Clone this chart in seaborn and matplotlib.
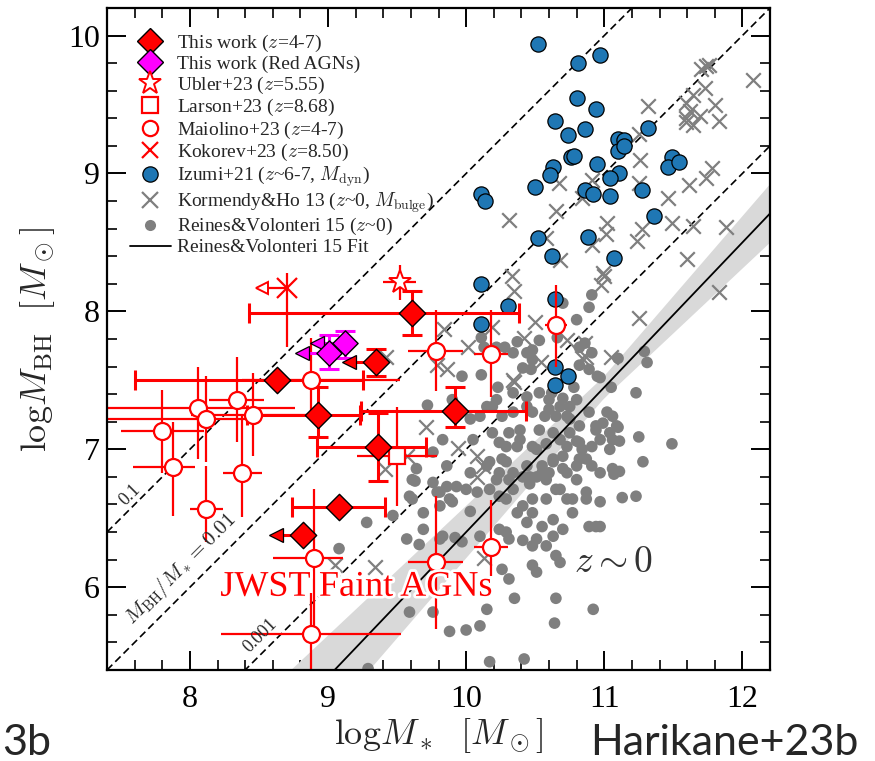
import numpy as np
import pandas as pd
import matplotlib
matplotlib.use("Agg")
import matplotlib.pyplot as plt
import matplotlib.patheffects as pe
from matplotlib.lines import Line2D
from matplotlib.ticker import MultipleLocator
import seaborn as sns

# ---------------- data ----------------
# This work (z=4-7): log M*, log MBH and asymmetric errors
tw_x = [9.61, 9.35, 8.63, 8.93, 9.92, 9.36, 9.08, 8.82]
tw_y = [7.99, 7.63, 7.50, 7.25, 7.28, 7.02, 6.58, 6.38]
tw_xlo = [1.18, 0.00, 1.03, 0.52, 0.68, 0.44, 0.34, 0.00]
tw_xhi = [0.77, 0.00, 0.62, 0.30, 0.51, 0.35, 0.33, 0.00]
tw_ylo = [0.16, 0.10, 0.00, 0.16, 0.12, 0.25, 0.00, 0.00]
tw_yhi = [0.16, 0.10, 0.00, 0.20, 0.17, 0.24, 0.00, 0.00]
tw_xlim = [False, True, False, False, False, False, False, True]

# This work (Red AGNs): stellar masses are upper limits
red_x = [9.01, 9.12]
red_y = [7.70, 7.77]
red_ylo = [0.12, 0.11]
red_yhi = [0.13, 0.09]

# Ubler+23, Larson+23, Kokorev+23
ub_x, ub_y, ub_xerr, ub_yerr = [9.52], [8.21], [0.12], [0.13]
la_x, la_y, la_xerr, la_yerr = [9.50], [6.95], [0.29], [0.36]
ko_x, ko_y, ko_ylo, ko_yhi = [8.70], [8.17], [0.43], [0.11]

# Maiolino+23 (z=4-7)
ma_x = [8.88, 8.06, 8.12, 8.34, 8.46, 7.80, 7.88, 8.38, 8.12, 8.90, 8.875, 9.78, 10.18, 9.78, 10.18, 10.65]
ma_y = [7.50, 7.30, 7.22, 7.36, 7.25, 7.13, 6.87, 6.83, 6.57, 6.21, 5.66, 6.18, 6.29, 7.71, 7.69, 7.90]
ma_xlo = [0.50, 0.80, 0.75, 0.20, 0.45, 0.30, 0.29, 0.14, 0.12, 0.30, 0.65, 0.20, 0.12, 0.20, 0.12, 0.08]
ma_xhi = [0.64, 0.70, 0.29, 0.20, 0.45, 0.30, 0.16, 0.14, 0.12, 0.21, 0.65, 0.20, 0.12, 0.20, 0.12, 0.08]
ma_ylo = [0.26, 0.37, 0.31, 0.31, 0.30, 0.30, 0.35, 0.32, 0.24, 0.50, 0.50, 0.48, 0.21, 0.29, 0.31, 0.30]
ma_yhi = [0.31, 0.30, 0.31, 0.31, 0.30, 0.30, 0.33, 0.41, 0.31, 0.50, 0.30, 0.48, 0.34, 0.30, 0.32, 0.29]

# Izumi+21 (z~6-7, dynamical masses)
iz_x = [10.52, 10.81, 10.97, 10.80, 10.94, 10.64, 10.86, 10.74, 11.32, 11.10,
        11.14, 11.10, 11.14, 10.76, 10.78, 10.95, 10.63, 10.61, 11.49, 11.46,
        11.54, 11.11, 11.04, 10.50, 10.86, 10.92, 11.04, 11.27, 11.36, 10.52,
        10.88, 10.62, 11.07, 10.11, 10.14, 10.11, 10.30, 10.11, 10.64, 10.64,
        10.74, 10.64]
iz_y = [9.94, 9.80, 9.86, 9.55, 9.47, 9.38, 9.32, 9.28, 9.33, 9.25,
        9.24, 9.16, 9.20, 9.12, 9.13, 9.07, 9.05, 8.99, 9.12, 9.05,
        9.08, 9.00, 8.97, 8.90, 8.88, 8.85, 8.84, 8.88, 8.69, 8.53,
        8.54, 8.40, 8.39, 8.85, 8.80, 8.20, 8.04, 7.91, 8.09, 7.60,
        7.53, 7.47]

# Kormendy & Ho 13 (z~0, bulge masses)
kh_x = [11.74, 11.70, 11.76, 12.08, 11.73, 11.64, 11.32, 11.80, 11.59, 11.62,
        11.69, 11.59, 11.64, 11.59, 11.83, 11.25, 11.26, 11.78, 11.74, 11.61,
        11.25, 11.46, 10.67, 10.91, 10.65, 10.31, 11.27, 11.02, 11.01, 11.49,
        11.64, 11.88, 11.24, 10.58, 10.91, 10.68, 11.60, 10.99, 10.33, 10.84,
        10.35, 10.19, 10.50, 10.42, 9.84, 10.01, 9.79, 9.86, 10.34, 9.71,
        9.94, 10.08, 10.12, 9.41, 9.57, 10.08, 10.73, 10.87, 11.00, 10.98,
        11.25, 11.83, 11.05, 10.86, 10.84, 10.54, 10.35, 10.13, 9.05, 9.34,
        9.42]
kh_y = [9.78, 9.76, 9.79, 9.68, 9.62, 9.57, 9.49, 9.50, 9.51, 9.45,
        9.42, 9.40, 9.35, 9.37, 9.38, 9.29, 9.10, 9.04, 8.97, 8.92,
        8.93, 8.82, 8.93, 8.95, 8.73, 8.66, 8.60, 8.64, 8.56, 8.64,
        8.62, 8.61, 8.51, 8.53, 8.48, 8.37, 8.38, 8.28, 8.26, 8.82,
        8.15, 7.89, 7.92, 7.81, 7.87, 7.74, 7.61, 7.58, 7.50, 7.16,
        7.01, 6.95, 6.88, 6.86, 6.95, 6.80, 7.79, 7.67, 8.26, 8.19,
        7.95, 8.14, 7.67, 7.77, 7.66, 7.63, 7.49, 6.21, 6.16, 6.15,
        7.67]

# Reines & Volonteri 15 (z~0)
rv_x = [10.91, 10.89, 10.80, 10.70, 10.11, 10.13, 10.22, 10.28, 10.37, 10.48,
        10.53, 10.66, 10.86, 10.91, 9.97, 10.11, 10.23, 9.72, 9.90, 10.03,
        10.10, 10.15, 10.22, 10.34, 10.44, 10.53, 10.60, 10.68, 10.73, 10.80,
        10.89, 10.94, 9.76, 9.83, 10.05, 10.19, 10.29, 10.39, 10.48, 10.53,
        10.63, 10.73, 10.82, 10.91, 9.64, 9.63, 9.86, 9.93, 10.03, 10.15,
        10.22, 10.29, 10.34, 10.46, 10.55, 10.63, 10.73, 10.82, 10.91, 9.59,
        9.81, 9.88, 10.08, 10.24, 10.34, 10.48, 10.68, 10.77, 10.87, 10.34,
        10.44, 10.48, 10.41, 10.47, 10.82, 10.82, 10.89, 10.95, 11.05, 10.78,
        10.62, 10.70, 10.75, 10.60, 10.57, 10.65, 10.75, 10.82, 10.48, 10.44,
        10.19, 10.26, 10.34, 10.39, 10.31, 10.24, 10.37, 10.51, 10.58, 10.68,
        10.75, 10.80, 10.84, 10.70, 10.63, 10.55, 10.44, 10.26, 10.17, 10.24,
        10.31, 10.41, 10.51, 10.60, 10.70, 10.80, 10.87, 10.94, 11.02, 11.06,
        10.99, 11.09, 11.04, 10.97, 11.06, 11.11, 11.23, 11.29, 11.31, 11.25,
        11.49, 11.28, 11.06, 10.97, 11.11, 10.80, 10.58, 10.46, 11.10, 10.97,
        11.10, 11.04, 11.07, 10.97, 11.13, 11.23, 10.97, 9.69, 9.81, 9.90,
        10.00, 10.03, 10.17, 10.29, 10.37, 10.41, 10.44, 10.48, 10.55, 10.63,
        10.58, 10.65, 10.73, 10.77, 10.87, 10.94, 10.89, 10.70, 10.63, 10.58,
        10.51, 10.48, 10.41, 10.31, 10.29, 10.24, 10.10, 9.97, 9.92, 9.83,
        9.69, 9.57, 10.65, 10.68, 10.48, 10.51, 10.26, 10.31, 10.35, 10.65,
        10.92, 10.64, 10.10, 10.00, 9.88, 9.76, 9.59, 10.15, 10.17, 10.42,
        9.61, 9.79, 9.86, 9.08, 9.28, 9.47, 9.66, 9.81, 9.61, 9.76,
        9.29]
rv_y = [8.12, 8.03, 7.94, 8.06, 7.81, 7.74, 7.74, 7.74, 7.78, 7.72,
        7.79, 7.81, 7.77, 7.70, 7.53, 7.54, 7.45, 7.32, 7.36, 7.22,
        7.24, 7.31, 7.36, 7.41, 7.38, 7.41, 7.36, 7.31, 7.24, 7.36,
        7.27, 7.14, 6.98, 7.07, 7.07, 7.12, 7.02, 7.07, 7.02, 7.14,
        7.12, 7.02, 7.05, 7.02, 6.86, 6.77, 6.88, 6.73, 6.83, 6.88,
        6.78, 6.91, 6.83, 6.80, 6.83, 6.91, 6.83, 6.93, 6.88, 6.66,
        6.69, 6.64, 6.69, 6.66, 6.71, 6.64, 6.71, 6.64, 6.69, 7.70,
        7.70, 7.65, 7.59, 7.58, 7.74, 7.61, 7.58, 7.53, 7.45, 7.45,
        7.41, 7.37, 7.31, 7.29, 7.24, 7.24, 7.22, 7.17, 7.27, 7.31,
        7.31, 7.24, 7.27, 7.14, 7.12, 7.05, 7.02, 7.00, 7.04, 7.07,
        7.12, 7.06, 7.00, 6.95, 6.93, 6.88, 6.88, 6.93, 6.91, 6.83,
        6.78, 6.80, 6.80, 6.83, 6.86, 6.88, 6.93, 7.17, 7.27, 7.24,
        7.19, 7.17, 7.12, 7.07, 7.07, 7.06, 7.41, 7.71, 7.63, 7.09,
        7.04, 6.91, 6.86, 6.83, 6.84, 6.78, 6.78, 6.75, 7.66, 7.52,
        7.16, 7.00, 6.82, 6.62, 6.65, 6.66, 6.44, 6.54, 6.59, 6.62,
        6.71, 6.55, 6.71, 6.64, 6.54, 6.59, 6.47, 6.54, 6.44, 6.49,
        6.64, 6.71, 6.64, 6.54, 6.64, 6.44, 6.44, 6.42, 6.37, 6.30,
        6.35, 6.30, 6.34, 6.35, 6.40, 6.42, 6.37, 6.33, 6.36, 6.37,
        6.42, 6.35, 6.23, 6.18, 6.16, 6.11, 6.13, 6.06, 5.92, 5.92,
        5.84, 5.74, 5.72, 5.69, 5.68, 5.82, 5.82, 5.84, 5.46, 5.48,
        6.64, 6.69, 6.73, 6.28, 6.47, 6.52, 6.31, 6.35, 6.78, 6.76,
        5.41]

# Reines & Volonteri 15 fit: log MBH = alpha + beta (log M* - 11)
rv_alpha, rv_alpha_err = 7.45, 0.08
rv_beta, rv_beta_err = 1.05, 0.11
rv_pivot = 11.0

# constant mass ratios MBH/M*
ratios = [0.1, 0.01, 0.001]

legend_labels = [
    r"This work ($z$=4-7)",
    r"This work (Red AGNs)",
    r"Ubler+23 ($z$=5.55)",
    r"Larson+23 ($z$=8.68)",
    r"Maiolino+23 ($z$=4-7)",
    r"Kokorev+23 ($z$=8.50)",
    r"Izumi+21 ($z$~6-7, $M_{\rm dyn}$)",
    r"Kormendy&Ho 13 ($z$~0, $M_{\rm bulge}$)",
    r"Reines&Volonteri 15 ($z$~0)",
    r"Reines&Volonteri 15 Fit",
]

# ---------------- style ----------------
sns.set_theme(style="ticks")
plt.rcParams.update({
    "font.family": ["Liberation Serif", "DejaVu Serif"],
    "mathtext.fontset": "cm",
    "axes.linewidth": 1.6,
    "xtick.direction": "in",
    "ytick.direction": "in",
    "xtick.top": True,
    "ytick.right": True,
    "xtick.major.size": 14,
    "ytick.major.size": 14,
    "xtick.minor.size": 7,
    "ytick.minor.size": 7,
    "xtick.major.width": 1.4,
    "ytick.major.width": 1.4,
    "xtick.minor.width": 1.2,
    "ytick.minor.width": 1.2,
    "xtick.color": "black",
    "ytick.color": "black",
    "axes.edgecolor": "black",
})

RED = "#ff0000"
MAG = "#ff00ff"
BLUE = "#1f77b4"
GRAY = "#7f7f7f"

fig = plt.figure(figsize=(8.75, 7.61), dpi=100)
ax = fig.add_axes([107 / 875, 1 - 670 / 761, 663 / 875, 662 / 761])
xmin, xmax, ymin, ymax = 7.4, 12.2, 5.4, 10.2

# fit band and line
grid = np.linspace(xmin, xmax, 100)
combos = np.array([(rv_alpha + sa * rv_alpha_err) + (rv_beta + sb * rv_beta_err) * (grid - rv_pivot)
                   for sa in (-1, 1) for sb in (-1, 1)])
ax.fill_between(grid, combos.min(axis=0), combos.max(axis=0), color="#d9d9d9", lw=0, zorder=1)

# constant-ratio lines
for r in ratios:
    ax.plot([xmin, xmax], [xmin + np.log10(r), xmax + np.log10(r)], ls=(0, (4.5, 2.5)),
            color="black", lw=1.2, zorder=2)

rv_df = pd.DataFrame({"mstar": rv_x, "mbh": rv_y})
sns.scatterplot(data=rv_df, x="mstar", y="mbh", ax=ax, color=GRAY, s=70, edgecolor="none",
                linewidth=0, zorder=3, legend=False)

fit_df = pd.DataFrame({"mstar": grid, "mbh": rv_alpha + rv_beta * (grid - rv_pivot)})
sns.lineplot(data=fit_df, x="mstar", y="mbh", ax=ax, color="black", lw=1.3, zorder=3.5)

kh_df = pd.DataFrame({"mstar": kh_x, "mbh": kh_y})
sns.scatterplot(data=kh_df, x="mstar", y="mbh", ax=ax, color=GRAY, marker="x", s=110,
                linewidth=1.6, zorder=3, legend=False)

iz_df = pd.DataFrame({"mstar": iz_x, "mbh": iz_y})
sns.scatterplot(data=iz_df, x="mstar", y="mbh", ax=ax, color=BLUE, s=120, edgecolor="black",
                linewidth=0.9, zorder=4, legend=False)

# Maiolino+23
ax.errorbar(ma_x, ma_y, xerr=[ma_xlo, ma_xhi], yerr=[ma_ylo, ma_yhi], fmt="none",
            ecolor=RED, elinewidth=1.6, capsize=0, zorder=5)
ma_df = pd.DataFrame({"mstar": ma_x, "mbh": ma_y})
sns.scatterplot(data=ma_df, x="mstar", y="mbh", ax=ax, marker="o", s=150, color="white",
                edgecolor=RED, linewidth=1.6, zorder=6, legend=False)

# Larson+23
ax.errorbar(la_x, la_y, xerr=la_xerr, yerr=la_yerr, fmt="none", ecolor=RED, elinewidth=1.6,
            capsize=0, zorder=5)
ax.plot(la_x, la_y, ls="none", marker="s", ms=12, mfc="white", mec=RED, mew=1.6, zorder=6)

# Ubler+23
ax.errorbar(ub_x, ub_y, xerr=ub_xerr, yerr=ub_yerr, fmt="none", ecolor=RED, elinewidth=1.6,
            capsize=0, zorder=5)
ax.plot(ub_x, ub_y, ls="none", marker="*", ms=17, mfc="white", mec=RED, mew=1.4, zorder=6)

# Kokorev+23 (stellar mass upper limit)
arrow = 0.18
ax.errorbar(ko_x, ko_y, yerr=[ko_ylo, ko_yhi], fmt="none", ecolor=RED, elinewidth=1.6, zorder=5)
for x, y in zip(ko_x, ko_y):
    ax.plot([x, x - arrow], [y, y], color=RED, lw=1.6, zorder=5)
    ax.plot([x - arrow], [y], marker="<", ms=8, mfc="white", mec=RED, mew=1.4, zorder=6)
ax.plot(ko_x, ko_y, ls="none", marker="x", ms=15, mec=RED, mew=1.6, zorder=6)

# This work
ax.errorbar(tw_x, tw_y, xerr=[tw_xlo, tw_xhi], yerr=[tw_ylo, tw_yhi], fmt="none", ecolor=RED,
            elinewidth=2.2, capsize=7, capthick=2.2, zorder=5)
arrow = 0.2
for x, y, lim in zip(tw_x, tw_y, tw_xlim):
    if lim:
        ax.plot([x, x - arrow], [y, y], color=RED, lw=2.2, zorder=5)
        ax.plot([x - arrow], [y], marker="<", ms=10, mfc=RED, mec="black", mew=0.9, zorder=6)
tw_df = pd.DataFrame({"mstar": tw_x, "mbh": tw_y})
sns.scatterplot(data=tw_df, x="mstar", y="mbh", ax=ax, marker="D", s=180, color=RED,
                edgecolor="black", linewidth=1.0, zorder=7, legend=False)

# This work, red AGNs
ax.errorbar(red_x, red_y, yerr=[red_ylo, red_yhi], fmt="none", ecolor=MAG, elinewidth=2.2,
            capsize=7, capthick=2.2, zorder=5)
for x, y in zip(red_x, red_y):
    ax.plot([x, x - arrow], [y, y], color=MAG, lw=2.2, zorder=5)
    ax.plot([x - arrow], [y], marker="<", ms=10, mfc=MAG, mec="black", mew=0.9, zorder=6)
red_df = pd.DataFrame({"mstar": red_x, "mbh": red_y})
sns.scatterplot(data=red_df, x="mstar", y="mbh", ax=ax, marker="D", s=165, color=MAG,
                edgecolor="black", linewidth=1.0, zorder=7, legend=False)

# annotations
ax.text(7.57, 6.67, "0.1", rotation=45, fontsize=13, ha="center", va="center", zorder=8)
ax.text(7.93, 6.13, r"$M_{\rm BH}/M_* = 0.01$", rotation=45, fontsize=15, ha="center",
        va="center", zorder=8)
ax.text(8.51, 5.65, "0.001", rotation=45, fontsize=13, ha="center", va="center", zorder=8)
ax.text(8.22, 6.0, "JWST Faint AGNs", color=RED, fontsize=26, ha="left", va="center", zorder=9,
        path_effects=[pe.withStroke(linewidth=4, foreground="white")])
ax.text(11.07, 6.18, r"$z\sim0$", color="#333333", fontsize=27, ha="center", va="center", zorder=8)

# axes
ax.set_xlim(xmin, xmax)
ax.set_ylim(ymin, ymax)
ax.xaxis.set_major_locator(MultipleLocator(1))
ax.xaxis.set_minor_locator(MultipleLocator(0.2))
ax.yaxis.set_major_locator(MultipleLocator(1))
ax.yaxis.set_minor_locator(MultipleLocator(0.2))
ax.tick_params(axis="both", which="both", top=True, right=True, direction="in")
ax.tick_params(axis="x", which="major", labelsize=23, pad=11)
ax.tick_params(axis="y", which="major", labelsize=23, pad=5)
ax.set_xlabel(r"$\mathrm{log}M_*\ \ [M_\odot]$", fontsize=26)
ax.set_ylabel(r"$\mathrm{log}M_{\rm BH}\ \ [M_\odot]$", fontsize=26)
ax.xaxis.set_label_coords(0.5, -0.07)
ax.yaxis.set_label_coords(-0.075, 0.5)
for s in ax.spines.values():
    s.set_linewidth(1.6)
    s.set_zorder(10)

# legend
handles = [
    Line2D([], [], ls="none", marker="D", ms=13, mfc=RED, mec="black", mew=1.0),
    Line2D([], [], ls="none", marker="D", ms=13, mfc=MAG, mec="black", mew=1.0),
    Line2D([], [], ls="none", marker="*", ms=17, mfc="white", mec=RED, mew=1.4),
    Line2D([], [], ls="none", marker="s", ms=12, mfc="white", mec=RED, mew=1.6),
    Line2D([], [], ls="none", marker="o", ms=11, mfc="white", mec=RED, mew=1.6),
    Line2D([], [], ls="none", marker="x", ms=12, mec=RED, mew=1.6),
    Line2D([], [], ls="none", marker="o", ms=11, mfc=BLUE, mec="black", mew=0.9),
    Line2D([], [], ls="none", marker="x", ms=11, mec=GRAY, mew=1.6),
    Line2D([], [], ls="none", marker="o", ms=8, mfc=GRAY, mec="none"),
    Line2D([], [], color="black", lw=1.3),
]
leg = ax.legend(handles, legend_labels, loc="upper left", bbox_to_anchor=(0.034, 0.962),
                frameon=False, fontsize=14, handlelength=2.15, handletextpad=0.3,
                labelspacing=0.07, borderaxespad=0, borderpad=0)
leg.set_zorder(20)

fig.text(2 / 875, 6 / 761, "3b", fontsize=31, family=["Lato", "DejaVu Sans"], ha="left",
         va="baseline")
fig.text(590 / 875, 6 / 761, "Harikane+23b", fontsize=31, family=["Lato", "DejaVu Sans"],
         ha="left", va="baseline")

fig.savefig("out.png", dpi=100, facecolor="white")
